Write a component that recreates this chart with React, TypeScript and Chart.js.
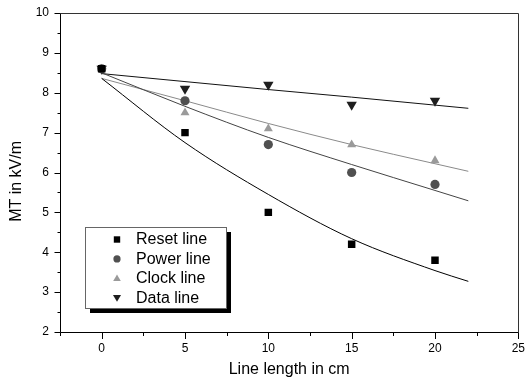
import React, { useEffect, useRef } from "react";
import { Chart, registerables } from "chart.js";

Chart.register(...registerables);

// measured points
const xPoints = [0, 5, 10, 15, 20];
const resetLine = [8.6, 7.0, 5.0, 4.2, 3.8];
const powerLine = [8.6, 7.8, 6.7, 6.0, 5.7];
const clockLine = [8.6, 7.5, 7.1, 6.7, 6.3];
const dataLine = [8.6, 8.1, 8.2, 7.7, 7.8];

// fitted curves
const fitX = [0, 5, 10, 15, 20, 22];
const resetFit = [8.36, 6.75, 5.45, 4.34, 3.54, 3.27];
const powerFit = [8.5, 7.66, 6.88, 6.2, 5.55, 5.29];
const clockFit = [8.36, 7.8, 7.23, 6.7, 6.22, 6.03];
const dataFit = [8.48, 8.28, 8.08, 7.89, 7.69, 7.61];

const seriesLabels = ["Reset line", "Power line", "Clock line", "Data line"];
const xMin = -2.5;
const xMax = 25;
const yMin = 2;
const yMax = 10;
const xTitle = "Line length in cm";
const yTitle = "MT in kV/m";

const FONT = "'Liberation Sans', Arial, sans-serif";

const markerColors = ["#000000", "#505050", "#9a9a9a", "#1e1e1e"];
const fitColors = ["#000000", "#444444", "#8a8a8a", "#111111"];
const markerStyles = ["rect", "circle", "triangle", "triangleDown"];

function toXY(xs: number[], ys: number[]) {
  return xs.map((x, i) => ({ x, y: ys[i] }));
}

function drawMarker(ctx: CanvasRenderingContext2D, style: string, x: number, y: number, r: number, color: string) {
  ctx.save();
  ctx.fillStyle = color;
  ctx.beginPath();
  if (style === "rect") {
    ctx.rect(x - r, y - r, 2 * r, 2 * r);
  } else if (style === "circle") {
    ctx.arc(x, y, r, 0, Math.PI * 2);
  } else if (style === "triangle") {
    const h = r * 1.7;
    ctx.moveTo(x, y - h * 0.6);
    ctx.lineTo(x + r, y + h * 0.4);
    ctx.lineTo(x - r, y + h * 0.4);
    ctx.closePath();
  } else {
    const h = r * 1.7;
    ctx.moveTo(x, y + h * 0.6);
    ctx.lineTo(x + r, y - h * 0.4);
    ctx.lineTo(x - r, y - h * 0.4);
    ctx.closePath();
  }
  ctx.fill();
  ctx.restore();
}

const framePlugin = {
  id: "framePlugin",
  afterDraw(chart: any) {
    const ctx: CanvasRenderingContext2D = chart.ctx;
    const a = chart.chartArea;
    const xs = chart.scales.x;
    const ys = chart.scales.y;
    ctx.save();
    ctx.lineWidth = 1;
    // frame
    ctx.strokeStyle = "#333";
    ctx.beginPath();
    ctx.moveTo(Math.round(a.left) + 0.5, Math.round(a.top) + 0.5);
    ctx.lineTo(Math.round(a.right) + 0.5, Math.round(a.top) + 0.5);
    ctx.lineTo(Math.round(a.right) + 0.5, Math.round(a.bottom) + 0.5);
    ctx.stroke();
    ctx.strokeStyle = "#000";
    ctx.beginPath();
    ctx.moveTo(Math.round(a.left) + 0.5, Math.round(a.top) + 0.5);
    ctx.lineTo(Math.round(a.left) + 0.5, Math.round(a.bottom) + 0.5);
    ctx.lineTo(Math.round(a.right) + 0.5, Math.round(a.bottom) + 0.5);
    ctx.stroke();
    // x ticks
    const bottom = Math.round(a.bottom) + 0.5;
    ctx.beginPath();
    for (let v = xMin; v <= xMax + 1e-6; v += 2.5) {
      const px = Math.round(xs.getPixelForValue(v)) + 0.5;
      const len = Math.abs(v % 5) < 1e-6 ? 6.5 : 3.5;
      ctx.moveTo(px, bottom);
      ctx.lineTo(px, bottom + len);
    }
    // y ticks
    const left = Math.round(a.left) + 0.5;
    for (let v = yMin; v <= yMax + 1e-6; v += 0.5) {
      const py = Math.round(ys.getPixelForValue(v)) + 0.5;
      const len = Math.abs(v % 1) < 1e-6 ? 6 : 3;
      ctx.moveTo(left, py);
      ctx.lineTo(left - len, py);
    }
    ctx.stroke();

    // legend
    const lx = Math.round(a.left) + 25;
    const ly = Math.round(a.top) + 214;
    const lw = 141;
    const lh = 81;
    ctx.fillStyle = "#000";
    ctx.fillRect(lx + 5, ly + 5, lw, lh);
    ctx.fillStyle = "#fff";
    ctx.fillRect(lx, ly, lw, lh);
    ctx.strokeStyle = "#666";
    ctx.strokeRect(lx + 0.5, ly + 0.5, lw, lh);
    ctx.font = `16px ${FONT}`;
    ctx.textBaseline = "middle";
    ctx.textAlign = "left";
    const legendR = [3.2, 3.6, 3.8, 4.0];
    seriesLabels.forEach((label, i) => {
      const cy = ly + 12.5 + i * 19.4;
      drawMarker(ctx, markerStyles[i], lx + 32, cy, legendR[i], markerColors[i]);
      ctx.fillStyle = "#000";
      ctx.fillText(label, lx + 51, cy + 0.5);
    });
    ctx.restore();
  },
};

export default function App() {
  const canvasRef = useRef<HTMLCanvasElement | null>(null);

  useEffect(() => {
    document.body.style.margin = "0";
    const canvas = canvasRef.current;
    if (!canvas) return;

    const fits = [resetFit, powerFit, clockFit, dataFit];
    const points = [resetLine, powerLine, clockLine, dataLine];

    const fitSets = fits.map((f, i) => ({
      type: "line" as const,
      label: seriesLabels[i] + " fit",
      data: toXY(fitX, f),
      borderColor: fitColors[i],
      borderWidth: 1,
      pointRadius: 0,
      fill: false,
      cubicInterpolationMode: "monotone" as const,
      order: 2,
    }));

    const pointStyles: any[] = ["rect", "circle", "triangle", "triangle"];
    const radii = [5.3, 4.6, 5.2, 6];
    const rotations = [0, 0, 0, 180];
    const pointSets = points.map((p, i) => ({
      type: "scatter" as const,
      label: seriesLabels[i],
      data: toXY(xPoints, p),
      pointStyle: pointStyles[i],
      pointRadius: radii[i],
      pointRotation: rotations[i],
      pointBackgroundColor: markerColors[i],
      pointBorderColor: markerColors[i],
      pointBorderWidth: 0,
      showLine: false,
      order: 1,
    }));

    const chart = new Chart(canvas, {
      type: "scatter",
      data: { datasets: [...fitSets, ...pointSets] as any },
      options: {
        animation: false,
        responsive: true,
        maintainAspectRatio: false,
        layout: { padding: { top: 13, right: 6, left: 0, bottom: 0 } },
        plugins: {
          legend: { display: false },
          tooltip: { enabled: false },
        },
        scales: {
          x: {
            type: "linear",
            min: xMin,
            max: xMax,
            afterFit: (s: any) => {
              s.height = 50;
            },
            ticks: {
              stepSize: 5,
              includeBounds: false,
              padding: 3,
              color: "#000",
              font: { family: FONT, size: 12 },
              callback: (v: any) => (Math.abs(Number(v) % 5) < 1e-6 ? String(v) : ""),
            },
            grid: { display: false, drawTicks: true, tickLength: 6 },
            border: { display: false },
            title: {
              display: true,
              text: xTitle,
              color: "#000",
              font: { family: FONT, size: 16 },
              padding: { top: 0, bottom: 2.5 },
            },
          },
          y: {
            type: "linear",
            min: yMin,
            max: yMax,
            afterFit: (s: any) => {
              s.width = 60;
            },
            ticks: {
              stepSize: 1,
              padding: 5,
              color: "#000",
              font: { family: FONT, size: 12 },
            },
            grid: { display: false, drawTicks: true, tickLength: 6 },
            border: { display: false },
            title: {
              display: true,
              text: yTitle + "    ",
              color: "#000",
              font: { family: FONT, size: 16 },
              padding: { top: 7, bottom: 0 },
            },
          },
        },
      },
      plugins: [framePlugin],
    });

    return () => {
      chart.destroy();
    };
  }, []);

  return (
    <div style={{ position: "fixed", left: 0, top: 0, width: 528, height: 382, background: "#fff" }}>
      <canvas ref={canvasRef} />
    </div>
  );
}
